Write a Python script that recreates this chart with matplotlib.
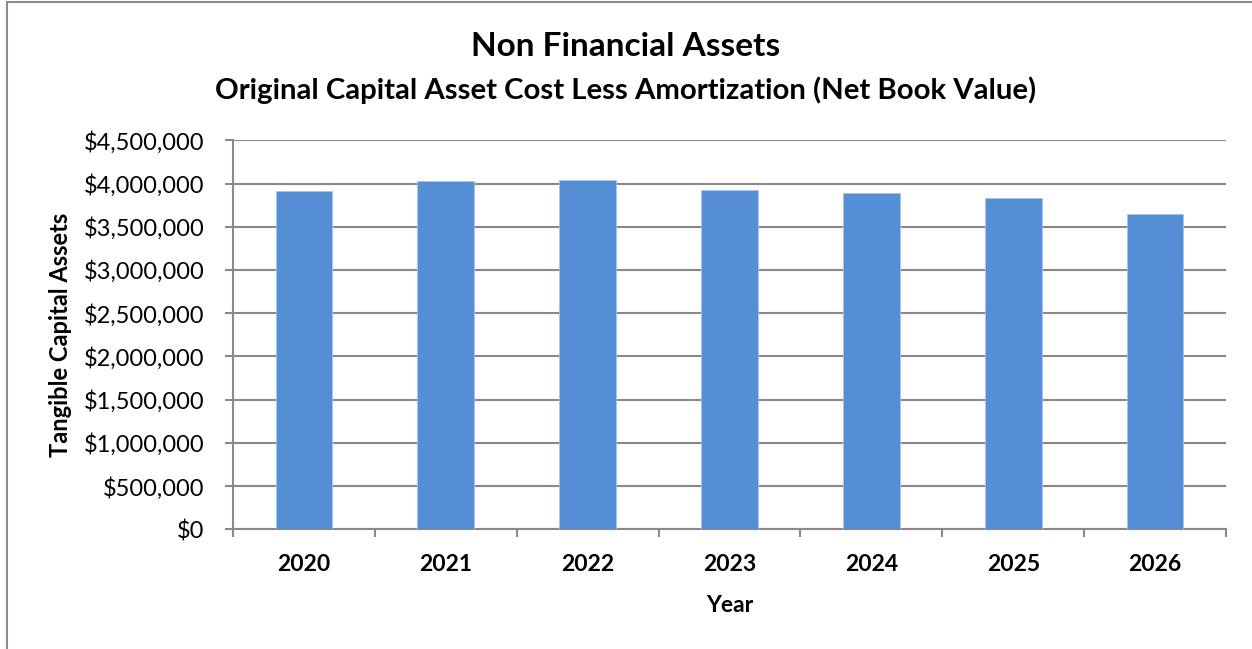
import matplotlib.pyplot as plt
from matplotlib.patches import Rectangle
from matplotlib.ticker import FuncFormatter, MultipleLocator

# === data ===
years = ['2020', '2021', '2022', '2023', '2024', '2025', '2026']
net_book_value = [3919000, 4030000, 4042000, 3922000, 3888000, 3830000, 3645000]

title = 'Non Financial Assets'
subtitle = 'Original Capital Asset Cost Less Amortization (Net Book Value)'

plt.rcParams['font.family'] = ['Lato', 'DejaVu Sans']
grid_color = '#898989'
bar_color = '#558ed5'

fig = plt.figure(figsize=(12.52, 6.49), dpi=100)
W, H = 1252, 649
ax = fig.add_axes([233 / W, 1 - 529.3 / H, (1226 - 233) / W, (529.3 - 140.3) / H])

x = range(len(years))
ax.bar(x, net_book_value, width=0.4, color=bar_color, edgecolor='#a9c4ea',
       linewidth=0.6, zorder=3)

ax.set_xlim(-0.5, len(years) - 0.5)
ax.set_ylim(0, 4500000)
ax.yaxis.set_major_locator(MultipleLocator(500000))
ax.yaxis.set_major_formatter(FuncFormatter(lambda v, p: f'${v:,.0f}'))
ax.grid(axis='y', color=grid_color, linewidth=1.5, zorder=0)

# category boundary ticks on x axis
ax.set_xticks([i - 0.5 for i in range(len(years) + 1)])
ax.set_xticklabels([])
ax.set_xticks(list(x), minor=True)
ax.set_xticklabels(years, minor=True, fontsize=16.5, fontweight='bold')
ax.tick_params(axis='x', which='major', length=5.8, width=1.5, color=grid_color, direction='out')
ax.tick_params(axis='x', which='minor', length=0, pad=18)
ax.tick_params(axis='y', length=5.8, width=1.5, color=grid_color, labelsize=17, pad=15)

for s in ['top', 'right']:
    ax.spines[s].set_visible(False)
for s in ['left', 'bottom']:
    ax.spines[s].set_color(grid_color)
    ax.spines[s].set_linewidth(1.5)

ax.set_xlabel('Year', fontsize=16.5, fontweight='bold', labelpad=14)
ax.set_ylabel('Tangible Capital Assets', fontsize=17, fontweight='bold', labelpad=8)

fig.text(0.5, 1 - 46 / H, title, ha='center', va='center', fontsize=24, fontweight='bold')
fig.text(0.5, 1 - 90 / H, subtitle, ha='center', va='center', fontsize=21.2, fontweight='bold')

# chart area border
fig.patches.append(Rectangle((7 / W, -0.1), 1.2, 1.1 - 2 / H, transform=fig.transFigure,
                             fill=False, edgecolor='#8c8c8c', linewidth=1.5))

plt.savefig('out.png', dpi=100)
